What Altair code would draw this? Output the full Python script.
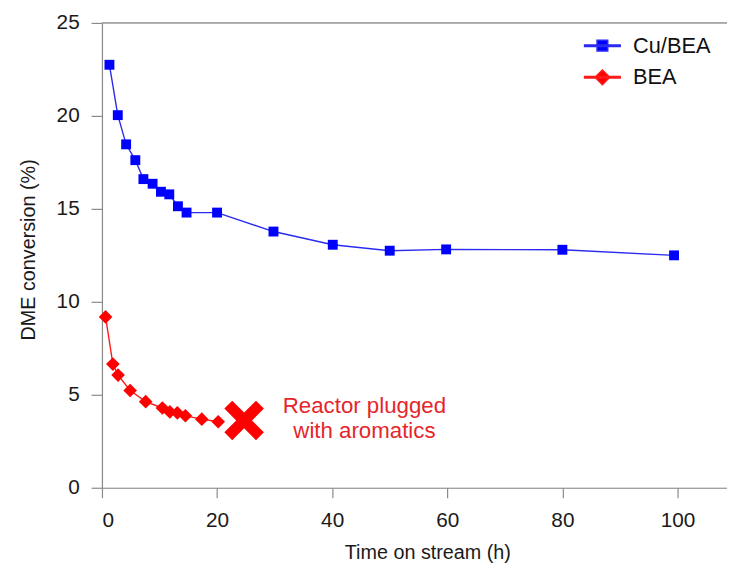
import altair as alt
import pandas as pd

# ---- data ----
cu_time = [1.3, 2.75, 4.2, 5.8, 7.2, 8.8, 10.25, 11.7, 13.2, 14.7, 20.0, 29.8, 40.1, 50.0, 59.8, 80.0, 99.4]
cu_conv = [22.75, 20.04, 18.47, 17.62, 16.6, 16.35, 15.92, 15.78, 15.14, 14.8, 14.8, 13.78, 13.07, 12.75, 12.82, 12.8, 12.5]
bea_time = [0.63, 1.9, 2.8, 4.9, 7.6, 10.5, 11.8, 13.1, 14.5, 17.35, 20.2]
bea_conv = [9.19, 6.65, 6.06, 5.23, 4.63, 4.29, 4.08, 4.03, 3.87, 3.69, 3.55]
series_names = ["Cu/BEA", "BEA"]
series_colors = ["#0000ff", "#ff0000"]
plug_time = [24.7]
plug_conv = [3.62]
note_text = ["Reactor plugged\nwith aromatics"]
note_time = [45.6]
note_conv = [4.04]
x_ticks = [0, 20, 40, 60, 80, 100]
y_ticks = [0, 5, 10, 15, 20, 25]
y_top = [25]

FONT = "Liberation Sans"
GREY = "#8a8a8a"

df = pd.DataFrame({
    "time": cu_time + bea_time,
    "conv": cu_conv + bea_conv,
    "series": ["Cu/BEA"] * len(cu_time) + ["BEA"] * len(bea_time),
})
plug_df = pd.DataFrame({"time": plug_time, "conv": plug_conv})
note_df = pd.DataFrame({"time": note_time, "conv": note_conv, "text": note_text})
top_df = pd.DataFrame({"y": y_top})

xscale = alt.Scale(domain=[0, 108.6], nice=False, zero=False)
yscale = alt.Scale(domain=[0, 25], nice=False)

# legend glyphs: a short line with the series marker on it
legend_paths = [
    "M-1.5,-0.06L1.5,-0.06L1.5,0.06L-1.5,0.06Z M-0.45,-0.45L0.45,-0.45L0.45,0.45L-0.45,0.45Z",
    "M-1.5,-0.06L1.5,-0.06L1.5,0.06L-1.5,0.06Z M-0.62,0L0,-0.62L0.62,0L0,0.62Z",
]

legend = alt.Legend(title=None)

x_enc = alt.X("time:Q", scale=xscale, axis=alt.Axis(
    values=x_ticks, title="Time on stream (h)", grid=False,
    tickSize=10, tickColor=GREY, domainColor=GREY, domainWidth=1.2, tickWidth=1.2,
    labelFont=FONT, labelFontSize=21, labelColor="#1a1a1a", labelPadding=12,
    titleFont=FONT, titleFontSize=20, titleFontWeight="normal", titleColor="#1a1a1a",
    titleX=329, titleY=72, titleBaseline="alphabetic", titleAlign="center"))
y_enc = alt.Y("conv:Q", scale=yscale, axis=alt.Axis(
    values=y_ticks, title="DME conversion (%)", grid=False,
    tickSize=11, tickColor=GREY, domainColor=GREY, domainWidth=1.2, tickWidth=1.2,
    labelFont=FONT, labelFontSize=21, labelColor="#1a1a1a", labelPadding=12,
    titleFont=FONT, titleFontSize=20, titleFontWeight="normal", titleColor="#1a1a1a",
    titleAngle=270, titleX=-68, titleY=229, titleBaseline="alphabetic", titleAlign="center"))

base = alt.Chart(df)
# tiny hidden marks that only carry the legend (drawn under the real markers)
legend_layer = base.mark_point(filled=True, opacity=1, size=1).encode(
    x=x_enc, y=y_enc,
    color=alt.Color("series:N", scale=alt.Scale(domain=series_names, range=series_colors), legend=legend),
    shape=alt.Shape("series:N", scale=alt.Scale(domain=series_names, range=legend_paths), legend=legend),
)
lines = base.mark_line(strokeWidth=1.4).encode(
    x="time:Q", y="conv:Q",
    stroke=alt.Stroke("series:N", scale=alt.Scale(domain=series_names, range=["#2a2af0", "#ff1a1a"]), legend=None),
    detail="series:N",
)
fill_scale = alt.Scale(domain=series_names, range=series_colors)
cu_points = base.transform_filter(alt.datum.series == "Cu/BEA").mark_point(
    filled=True, opacity=1, shape="square", size=100).encode(
    x="time:Q", y="conv:Q",
    fill=alt.Fill("series:N", scale=fill_scale, legend=None),
)
bea_points = base.transform_filter(alt.datum.series == "BEA").mark_point(
    filled=True, opacity=1, shape="diamond", size=190).encode(
    x="time:Q", y="conv:Q",
    fill=alt.Fill("series:N", scale=fill_scale, legend=None),
)
x_path = "M-1,-0.6L-0.6,-1L0,-0.4L0.6,-1L1,-0.6L0.4,0L1,0.6L0.6,1L0,0.4L-0.6,1L-1,0.6L-0.4,0Z"
plug = alt.Chart(plug_df).mark_point(shape=x_path, filled=True, size=1600, color="#ff0000", opacity=1).encode(
    x="time:Q", y="conv:Q")
note = alt.Chart(note_df).mark_text(
    align="center", baseline="alphabetic", lineBreak="\n", lineHeight=26,
    font=FONT, fontSize=22.5, color="#e4262b").encode(
    x="time:Q", y="conv:Q", text="text:N")
top_rule = alt.Chart(top_df).mark_rule(color=GREY, strokeWidth=1.2).encode(
    y=alt.Y("y:Q", scale=yscale))

chart = alt.layer(legend_layer, lines, cu_points, bea_points, plug, note, top_rule).properties(
    width=632, height=470,
    padding={"left": 95, "top": 12, "right": 0, "bottom": 75},
    autosize=alt.AutoSizeParams(type="none"),
).configure_view(stroke=None).configure(font=FONT).configure_legend(
    orient="none", legendX=493, legendY=10, padding=0,
    labelFont=FONT, labelFontSize=22, labelColor="#111111", labelOffset=18,
    symbolSize=576, rowPadding=8, symbolOpacity=1,
)

chart.save("out.html", embed_options={"renderer": "svg", "actions": False})
